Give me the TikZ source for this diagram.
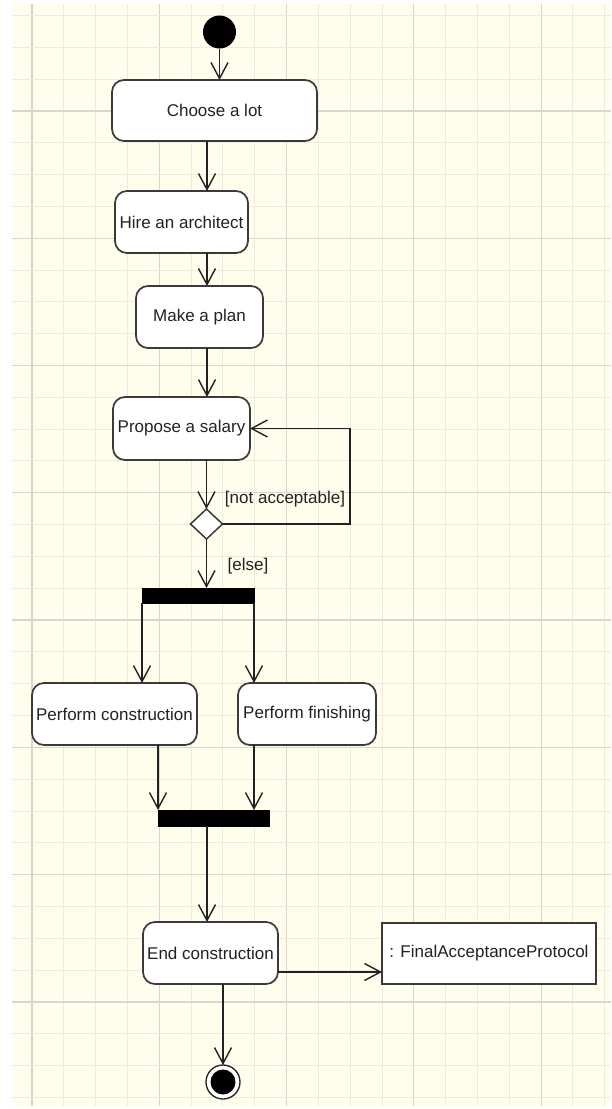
\documentclass[tikz,border=0pt]{standalone}
\usepackage{fontspec}
\setmainfont{Liberation Sans}
\usetikzlibrary{arrows.meta,shapes.geometric}

\definecolor{paper}{HTML}{FFFDEC}
\definecolor{gridminor}{HTML}{EEEAE1}
\definecolor{gridmajor}{HTML}{DAD6CF}
\definecolor{ink}{HTML}{222222}
\definecolor{edge}{HTML}{3A3A3A}

\tikzset{
  activity/.style={draw=edge, line width=1.7pt, fill=white, rounded corners=12pt,
    inner sep=0pt, outer sep=0pt, text=ink, align=center},
  objectbox/.style={draw=edge, line width=1.5pt, fill=white,
    inner sep=0pt, outer sep=0pt, text=ink, align=center},
  bar/.style={fill=black, draw=black, inner sep=0pt, outer sep=0pt},
  flow/.style={draw=ink, line width=1.4pt, -{Straight Barb[length=16pt, width=17pt, line width=1.4pt]}},
  guard/.style={text=ink, inner sep=0pt}
}

\begin{document}
\begin{tikzpicture}[x=1pt, y=-1pt, font=\fontsize{17}{20}\selectfont]
\useasboundingbox (0,0) rectangle (611,1109);

% squared paper
\fill[paper] (12,4) rectangle (611,1106);
\foreach \i in {0,...,18} {
  \pgfmathsetmacro{\gx}{32+31.82*\i}
  \pgfmathtruncatemacro{\maj}{mod(\i,4)==0}
  \ifnum\maj=1
    \draw[gridmajor, line width=1.2pt] (\gx,4) -- (\gx,1106);
  \else
    \draw[gridminor, line width=1pt] (\gx,4) -- (\gx,1106);
  \fi
}
\foreach \j in {0,...,34} {
  \pgfmathsetmacro{\gy}{15.5+31.82*\j}
  \pgfmathtruncatemacro{\maj}{mod(\j,4)==3}
  \ifnum\maj=1
    \draw[gridmajor, line width=1.2pt] (12,\gy) -- (611,\gy);
  \else
    \draw[gridminor, line width=1pt] (12,\gy) -- (611,\gy);
  \fi
}

% helper positions for the connectors
\coordinate (spine) at (207,0);
\coordinate (loopx) at (350,0);
\coordinate (fj) at (254,0);
\coordinate (objy) at (0,972);

% nodes
\node[circle, fill=black, minimum size=33pt, inner sep=0pt, outer sep=0pt] (start) at (219.5,32) {};
\node[activity, minimum width=205pt, minimum height=61pt] (choose) at (214.5,110.5) {Choose a lot};
\node[activity, minimum width=133pt, minimum height=62pt] (hire) at (181.5,222) {Hire an architect};
\node[activity, minimum width=127pt, minimum height=62pt] (plan) at (199.5,317) {Make a plan};
\node[activity, minimum width=137pt, minimum height=63pt] (salary) at (181.5,428.5) {Propose a salary};
\node[diamond, draw=edge, line width=1.5pt, fill=white, inner sep=0pt, outer sep=0pt,
      minimum width=32pt, minimum height=30pt] (dec) at (206.5,524) {};
\node[bar, minimum width=112pt, minimum height=15pt] (fork) at (198,595.5) {};
\node[activity, minimum width=165pt, minimum height=62pt] (constr) at (114.5,714) {Perform construction};
\node[activity, minimum width=138pt, minimum height=62pt] (finish) at (307,714) {Perform finishing};
\node[bar, minimum width=111pt, minimum height=16pt] (join) at (213.5,818) {};
\node[activity, minimum width=135pt, minimum height=62pt] (endc) at (210.5,953) {End construction};
\node[objectbox, minimum width=214pt, minimum height=61pt] (protocol) at (489,953.5) {: FinalAcceptanceProtocol};
\node[circle, draw=ink, line width=1.3pt, fill=white, minimum size=34pt, inner sep=0pt, outer sep=0pt] (final) at (223,1082) {};
\fill[black] (final.center) circle (12.5pt);

% guards
\node[guard] (notacc) at (285,499) {[not acceptable]};
\node[guard] (elseg) at (248,566) {[else]};

% control flow
\draw[flow] (start) -- (start |- choose.north);
\draw[flow] (choose.south -| spine) -- (hire.north -| spine);
\draw[flow] (hire.south -| spine) -- (plan.north -| spine);
\draw[flow] (plan.south -| spine) -- (salary.north -| spine);
\draw[flow] (salary.south -| dec.north) -- (dec.north);
\draw[flow] (dec.east) -| (loopx |- salary.east) -- (salary.east);
\draw[flow] (dec.south) -- (fork.north -| dec.south);
\draw[flow] (fork.south west) -- (fork.south west |- constr.north);
\draw[flow] (fork.south east) -- (fork.south east |- finish.north);
\draw[flow] (constr.south -| join.north west) -- (join.north west);
\draw[flow] (finish.south -| fj) -- (join.north -| fj);
\draw[flow] (join.south -| spine) -- (endc.north -| spine);
\draw[flow] (endc.east |- objy) -- (protocol.west |- objy);
\draw[flow] (final |- endc.south) -- (final);
\end{tikzpicture}
\end{document}
